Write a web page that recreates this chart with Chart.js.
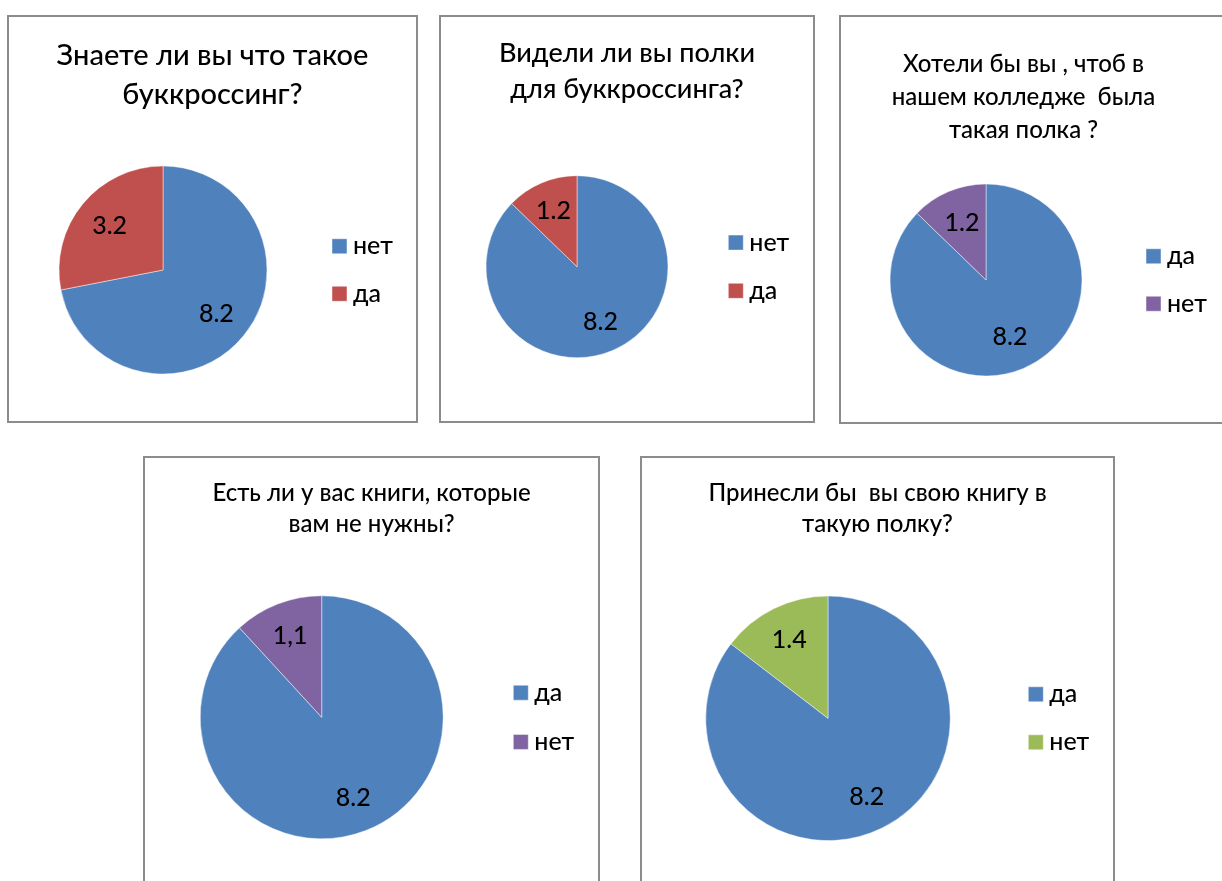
<!DOCTYPE html>
<html><head><meta charset="utf-8">
<script src="https://cdn.jsdelivr.net/npm/chart.js@4.4.1/dist/chart.umd.min.js"></script>
<style>
html,body{margin:0;padding:0;background:#fff;width:1222px;height:881px;overflow:hidden;position:relative;}
.frame{position:absolute;box-sizing:border-box;border:2px solid #8c8c8c;}
canvas{position:absolute;}
</style></head><body>
<div class="frame" style="left:7px;top:15px;width:411px;height:408px"></div>
<div class="frame" style="left:439px;top:15px;width:376px;height:408px"></div>
<div class="frame" style="left:839px;top:15px;width:392px;height:409px"></div>
<div class="frame" style="left:143px;top:456px;width:457px;height:440px"></div>
<div class="frame" style="left:640px;top:456px;width:475px;height:440px"></div>
<canvas id="c1" width="411" height="408" style="left:7px;top:15px"></canvas>
<canvas id="c2" width="376" height="408" style="left:439px;top:15px"></canvas>
<canvas id="c3" width="369" height="409" style="left:839px;top:15px"></canvas>
<canvas id="c4" width="457" height="440" style="left:143px;top:456px"></canvas>
<canvas id="c5" width="475" height="440" style="left:640px;top:456px"></canvas>
<script>
// ---------- DATA ----------
const title1 = ['Знаете ли вы что такое', 'буккроссинг?'];
const categories1 = ['нет', 'да'];
const values1 = [8.2, 3.2];

const title2 = ['Видели ли вы полки', 'для буккроссинга?'];
const categories2 = ['нет', 'да'];
const values2 = [8.2, 1.2];

const title3 = ['Хотели бы вы , чтоб в', 'нашем колледже  была', 'такая полка ?'];
const categories3 = ['да', 'нет'];
const values3 = [8.2, 1.2];

const title4 = ['Есть ли у вас книги, которые', 'вам не нужны?'];
const categories4 = ['да', 'нет'];
const values4 = [8.2, 1.1];

const title5 = ['Принесли бы  вы свою книгу в', 'такую полку?'];
const categories5 = ['да', 'нет'];
const values5 = [8.2, 1.4];

// decimal separator used by each slice label (chart 4 writes its small slice as "1,1")
const separators1 = ['.', '.'];
const separators2 = ['.', '.'];
const separators3 = ['.', '.'];
const separators4 = ['.', ','];
const separators5 = ['.', '.'];

// ---------- STYLE ----------
const BLUE = '#4F81BD', RED = '#C0504D', PURPLE = '#8064A2', GREEN = '#9BBB59';
const FONT = 'Lato';
const WEIGHT = '500';
Chart.defaults.font.family = FONT;
Chart.defaults.color = '#000';

const charts = [
  {id:'c1', title:title1, cats:categories1, vals:values1, colors:[BLUE, RED],    seps:separators1,
   L:{W:411, H:408, cx:156,   cy:255,   r:104,   sq:325,   sp:47.5, ts:29, lh:39.3, tb:51.7, k:0.665}},
  {id:'c2', title:title2, cats:categories2, vals:values2, colors:[BLUE, RED],    seps:separators2,
   L:{W:376, H:408, cx:138,   cy:251.7, r:91,    sq:289.3, sp:48.2, ts:27, lh:36,   tb:49,   k:0.66}},
  {id:'c3', title:title3, cats:categories3, vals:values3, colors:[BLUE, PURPLE], seps:separators3,
   L:{W:369, H:409, cx:147,   cy:265,   r:96,    sq:307,   sp:47.5, ts:24, lh:32.7, tb:59,   k:0.64}},
  {id:'c4', title:title4, cats:categories4, vals:values4, colors:[BLUE, PURPLE], seps:separators4,
   L:{W:457, H:440, cx:178.7, cy:261.3, r:121.5, sq:370.3, sp:49.2, ts:24, lh:31.7, tb:46.3, k:0.715}},
  {id:'c5', title:title5, cats:categories5, vals:values5, colors:[BLUE, GREEN],  seps:separators5,
   L:{W:475, H:440, cx:188,   cy:262.3, r:122.3, sq:388.3, sp:48,   ts:24, lh:31,   tb:46.3, k:0.715}}
];

const LEG_FONT = 25, LABEL_FONT = 25, BOX_W = 2, BOX_H = 15;

// value labels drawn at each arc's mid-angle
const sliceLabels = {
  id: 'sliceLabels',
  afterDatasetsDraw(chart, args, opts) {
    const meta = chart.getDatasetMeta(0);
    const data = chart.data.datasets[0].data;
    const ctx = chart.ctx;
    ctx.save();
    ctx.font = WEIGHT + ' ' + LABEL_FONT + 'px ' + FONT;
    ctx.fillStyle = '#000';
    ctx.textAlign = 'center';
    ctx.textBaseline = 'middle';
    meta.data.forEach((arc, i) => {
      const p = arc.getProps(['x', 'y', 'startAngle', 'endAngle', 'outerRadius'], true);
      const mid = (p.startAngle + p.endAngle) / 2;
      const rr = p.outerRadius * opts.k;
      ctx.fillText(data[i].toFixed(1).replace('.', opts.seps[i]), p.x + Math.cos(mid) * rr, p.y + Math.sin(mid) * rr);
    });
    ctx.restore();
  }
};

// fixes the legend column width so pie, legend and title sit like the reference
const legendWidth = {
  id: 'legendWidth',
  beforeLayout(chart, args, opts) {
    const lg = chart.legend;
    if (lg && !lg.__fixed) {
      const orig = lg.fit;
      lg.fit = function () { orig.call(this); this._natural = this.width; this.width = opts.width; };
      lg.__fixed = true;
    }
  },
  afterLayout(chart) {
    const lg = chart.legend;
    if (lg && lg._natural > lg.width) { lg.width = lg._natural; lg.right = lg.left + lg._natural; }
  }
};

charts.forEach(c => {
  const L = c.L;
  const legPad = L.sp - LEG_FONT;
  const legLeft = L.sq - legPad - BOX_W / 2 + BOX_H / 2;
  const pad = 2 * L.cx - legLeft;
  const legW = L.W - pad - legLeft;
  const titleMid = L.tb - 0.387 * L.ts;
  const tPadTop = titleMid - L.lh / 2;
  const tPadBottom = 12;
  const areaTop = tPadTop + c.title.length * L.lh + tPadBottom;
  const padBottom = L.H - (2 * L.cy - areaTop);

  new Chart(document.getElementById(c.id), {
    type: 'pie',
    data: {
      labels: c.cats,
      datasets: [{
        data: c.vals,
        backgroundColor: c.colors,
        borderColor: 'rgba(255,255,255,0.45)',
        borderWidth: 1
      }]
    },
    options: {
      responsive: false,
      animation: false,
      radius: L.r,
      layout: {padding: {left: pad, right: pad, top: 0, bottom: padBottom}},
      plugins: {
        tooltip: {enabled: false},
        title: {
          display: true, text: c.title, color: '#000',
          font: {family: FONT, size: L.ts, weight: WEIGHT, lineHeight: L.lh / L.ts},
          padding: {top: tPadTop, bottom: tPadBottom}
        },
        legend: {
          position: 'right', fullSize: false, align: 'center',
          labels: {
            usePointStyle: true, pointStyle: 'rect', boxWidth: BOX_W, boxHeight: BOX_H,
            padding: legPad, color: '#000', font: {family: FONT, size: LEG_FONT, weight: WEIGHT}
          }
        },
        legendWidth: {width: legW},
        sliceLabels: {k: L.k, seps: c.seps}
      }
    },
    plugins: [sliceLabels, legendWidth]
  });
});
</script>
</body></html>
